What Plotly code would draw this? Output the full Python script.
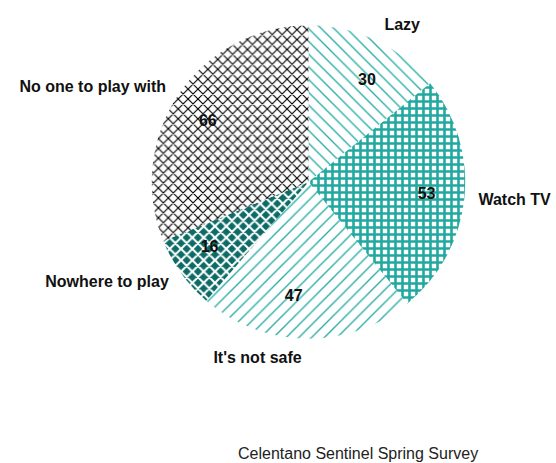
import plotly.graph_objects as go

categories = ["Lazy", "Watch TV", "It's not safe", "Nowhere to play", "No one to play with"]
values = [30, 53, 47, 16, 66]

shapes = ["\\", "+", "/", "x", "x"]
fgcolors = ["#26aca4", "#1fa99f", "#26aca4", "#ffffff", "#000000"]
bgcolors = ["#ffffff", "#ffffff", "#ffffff", "#0d6b66", "#ffffff"]
fills = ["#ffffff", "#1fa99f", "#ffffff", "#0d6b66", "#ffffff"]
sizes = [9, 7, 9, 8, 7]
solidities = [0.15, 0.6, 0.15, 0.45, 0.3]

FONT = "Liberation Sans, Arial, sans-serif"
W, H = 556, 463

cx, cy, r = 313, 182, 159


def dom(rad):
    return dict(x=[(cx - rad) / W, (cx + rad) / W], y=[(H - cy - rad) / H, (H - cy + rad) / H])


common = dict(labels=categories, values=values, sort=False, direction="clockwise",
              rotation=0, showlegend=False)

fig = go.Figure()
# patterned pie
fig.add_trace(go.Pie(
    **common, domain=dom(r), textinfo="none",
    marker=dict(colors=fills, line=dict(width=0),
                pattern=dict(shape=shapes, fgcolor=fgcolors, bgcolor=bgcolors,
                             size=sizes, solidity=solidities, fillmode="replace")),
    hoverinfo="label+value",
))
# invisible smaller pie carrying the value labels
fig.add_trace(go.Pie(
    **common, domain=dom(107), textinfo="value", textposition="outside",
    textfont=dict(family=FONT, size=16, color="#111111", weight="bold"),
    marker=dict(colors=["rgba(0,0,0,0)"] * 5, line=dict(width=0)),
    hoverinfo="skip",
))
# invisible larger pie carrying the category labels
fig.add_trace(go.Pie(
    **common, domain=dom(169), textinfo="label", textposition="outside",
    textfont=dict(family=FONT, size=16, color="#111111", weight="bold"),
    marker=dict(colors=["rgba(0,0,0,0)"] * 5, line=dict(width=0)),
    hoverinfo="skip",
))

fig.update_layout(
    width=W, height=H,
    margin=dict(l=0, r=0, t=0, b=0),
    paper_bgcolor="white", plot_bgcolor="white",
    annotations=[dict(text="Celentano Sentinel Spring Survey", x=363 / W, y=(H - 453) / H,
                      xref="paper", yref="paper", xanchor="center", yanchor="middle",
                      showarrow=False,
                      font=dict(family=FONT, size=16, color="#222222"))],
)
fig.write_html("out.html", config={"displayModeBar": False},
               post_script="document.body.style.margin='0';document.body.style.overflow='hidden';")
